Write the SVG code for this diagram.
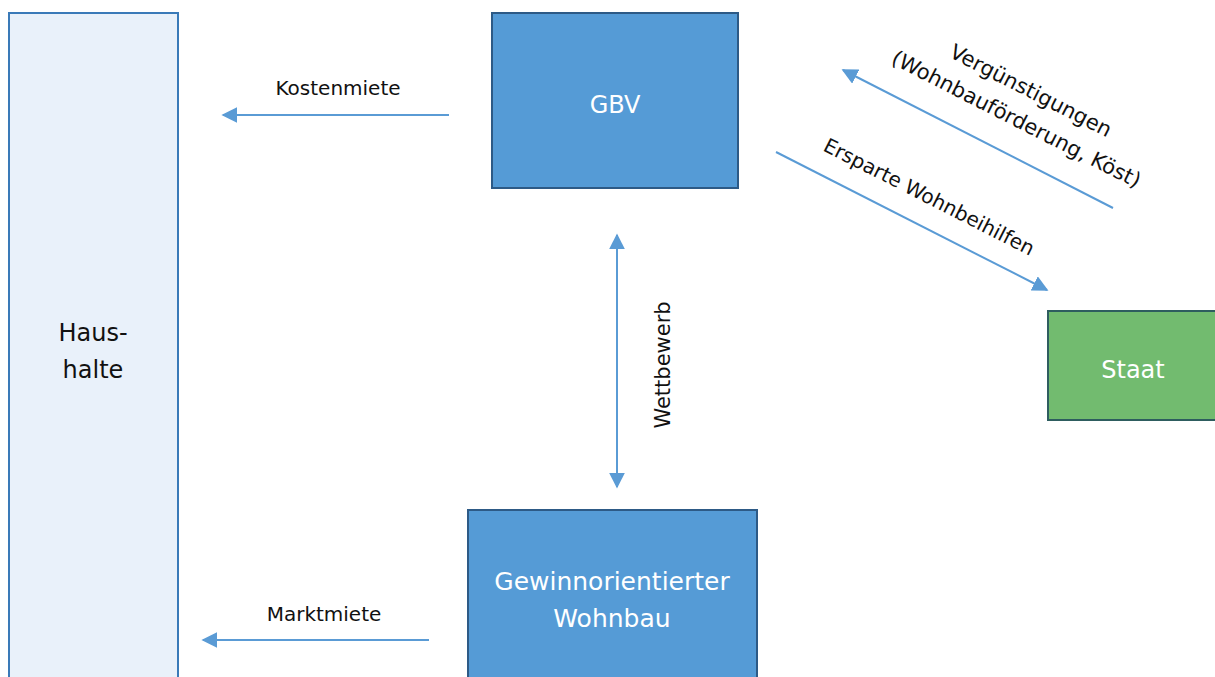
<svg xmlns="http://www.w3.org/2000/svg" width="1215" height="677" viewBox="0 0 1215 677">
<style>
.lbl{font-family:"DejaVu Sans","Liberation Sans",sans-serif;fill:#111;}
.node{font-family:"DejaVu Sans","Liberation Sans",sans-serif;font-size:24px;text-anchor:middle;}
.conn{stroke:#5a9bd5;stroke-width:2;fill:none;}
</style>
<defs>
<marker id="ah2" viewBox="0 0 10 10" refX="9" refY="5" markerWidth="16" markerHeight="16" markerUnits="userSpaceOnUse" orient="auto-start-reverse">
<path d="M0,0 L10,5 L0,10 z" fill="#5a9bd5"/>
</marker>
</defs>
<rect width="1215" height="677" fill="#ffffff"/>
<g id="haushalte">
<rect x="9" y="13" width="169" height="680" fill="#e9f1fa" stroke="#3a7ab8" stroke-width="2"/>
<text class="node" x="93" y="341" fill="#111">Haus-</text>
<text class="node" x="93" y="378" fill="#111">halte</text>
</g>
<g id="gbv">
<rect x="492" y="13" width="246" height="175" fill="#559bd6" stroke="#2d5a86" stroke-width="2"/>
<text class="node" x="615" y="113" fill="#ffffff" font-size="25">GBV</text>
</g>
<g id="gewinn">
<rect x="468" y="510" width="289" height="180" fill="#559bd6" stroke="#2d5a86" stroke-width="2"/>
<text class="node" x="612" y="590" fill="#ffffff" style="font-size:25px">Gewinnorientierter</text>
<text class="node" x="612" y="627" fill="#ffffff" style="font-size:25px">Wohnbau</text>
</g>
<g id="staat">
<rect x="1048" y="311" width="180" height="109" fill="#72bb6f" stroke="#2e5d5f" stroke-width="2"/>
<text class="node" x="1133" y="378" fill="#ffffff">Staat</text>
</g>
<g id="connectors">
<line class="conn" x1="449" y1="115" x2="223" y2="115" marker-end="url(#ah2)"/>
<line class="conn" x1="429" y1="640" x2="203" y2="640" marker-end="url(#ah2)"/>
<line class="conn" x1="617" y1="235" x2="617" y2="487" marker-start="url(#ah2)" marker-end="url(#ah2)"/>
<line class="conn" x1="1113" y1="208" x2="843" y2="70" marker-end="url(#ah2)"/>
<line class="conn" x1="776" y1="152" x2="1047" y2="290" marker-end="url(#ah2)"/>
<text class="lbl" x="338" y="95" font-size="20" text-anchor="middle">Kostenmiete</text>
<text class="lbl" x="324" y="621" font-size="20" text-anchor="middle">Marktmiete</text>
<text class="lbl" x="0" y="0" font-size="21" text-anchor="middle" transform="translate(670,365) rotate(-90)">Wettbewerb</text>
<g transform="translate(1019,114) rotate(27)">
<text class="lbl" x="0" y="-19" font-size="21" text-anchor="middle">Vergünstigungen</text>
<text class="lbl" x="0" y="13" font-size="21" text-anchor="middle">(Wohnbauförderung, Köst)</text>
</g>
<text class="lbl" x="0" y="0" font-size="20" text-anchor="middle" transform="translate(926,203) rotate(27)">Ersparte Wohnbeihilfen</text>
</g>
</svg>
